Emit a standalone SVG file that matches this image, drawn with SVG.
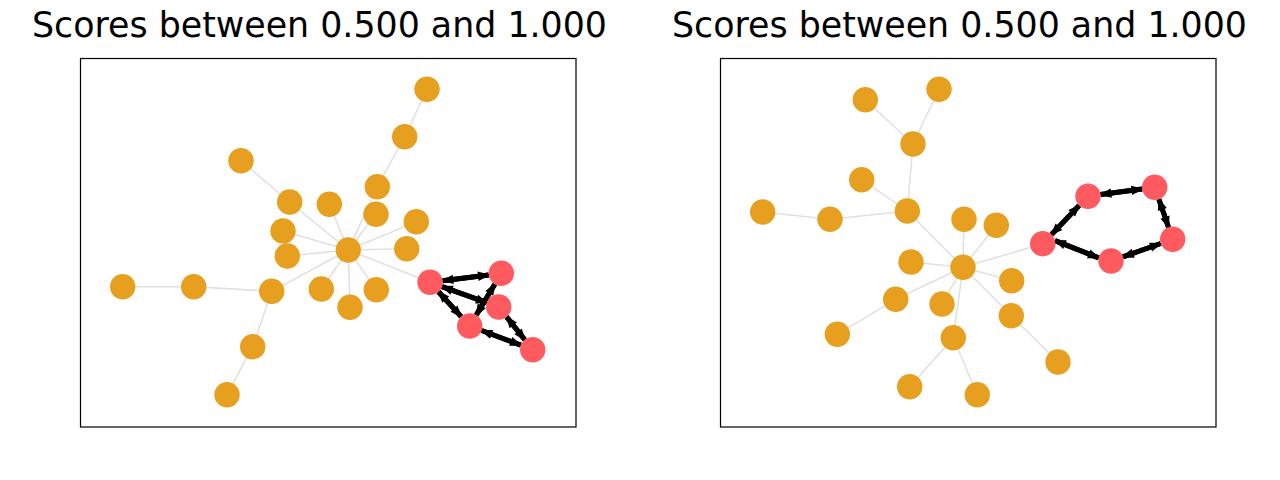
<svg xmlns="http://www.w3.org/2000/svg" width="1280" height="480" viewBox="0 0 1280 480">
<style>
.title{font-family:"DejaVu Sans",sans-serif;font-size:34.8px;fill:#000;text-anchor:middle}
.frame{fill:none;stroke:#000;stroke-width:1.2}
.g{stroke:#e0e0e0;stroke-width:1.5;fill:none}
.d{stroke:#000;stroke-width:5;fill:none;marker-end:url(#ah)}
.o{fill:#e69f1f}
.r{fill:#ff5a5f}
</style>
<defs>
<marker id="ah" markerUnits="userSpaceOnUse" markerWidth="16" markerHeight="12" viewBox="-12 -6 13 12" refX="0" refY="0" orient="auto">
<path d="M-0.5,0 L-10,-3.6 L-10,3.6 z" fill="#000" stroke="#000" stroke-width="1.5" stroke-linejoin="miter"/>
</marker>
</defs>
<rect width="1280" height="480" fill="#fff"/>
<text class="title" x="319.5" y="36.7">Scores between 0.500 and 1.000</text>
<text class="title" x="959.5" y="36.7">Scores between 0.500 and 1.000</text>
<rect class="frame" x="80.5" y="58.5" width="495.5" height="368.5"/>
<rect class="frame" x="720.5" y="58.5" width="495.5" height="368.5"/>

<g id="connectors">
<g id="p1-edges">
<line class="g" x1="427" y1="89.3" x2="404.7" y2="136.7"/>
<line class="g" x1="404.7" y1="136.7" x2="377.3" y2="186.7"/>
<line class="g" x1="377.3" y1="186.7" x2="348.3" y2="250"/>
<line class="g" x1="376" y1="214.3" x2="348.3" y2="250"/>
<line class="g" x1="241" y1="160.7" x2="289.7" y2="202"/>
<line class="g" x1="289.7" y1="202" x2="348.3" y2="250"/>
<line class="g" x1="329.3" y1="204.3" x2="348.3" y2="250"/>
<line class="g" x1="416.3" y1="221.7" x2="348.3" y2="250"/>
<line class="g" x1="283" y1="231" x2="348.3" y2="250"/>
<line class="g" x1="287.3" y1="256" x2="348.3" y2="250"/>
<line class="g" x1="406.7" y1="248.7" x2="348.3" y2="250"/>
<line class="g" x1="122.7" y1="286.7" x2="193.7" y2="286.7"/>
<line class="g" x1="193.7" y1="286.7" x2="271.7" y2="291.3"/>
<line class="g" x1="271.7" y1="291.3" x2="348.3" y2="250"/>
<line class="g" x1="321.3" y1="289" x2="348.3" y2="250"/>
<line class="g" x1="376.3" y1="289.7" x2="348.3" y2="250"/>
<line class="g" x1="350" y1="307.3" x2="348.3" y2="250"/>
<line class="g" x1="271.7" y1="291.3" x2="252.7" y2="346.7"/>
<line class="g" x1="252.7" y1="346.7" x2="227" y2="394.7"/>
<line class="g" x1="348.3" y1="250" x2="430" y2="282.3"/>
<line class="d" x1="442.6" y1="280.7" x2="488.7" y2="274.9"/>
<line class="d" x1="488.7" y1="274.9" x2="442.6" y2="280.7"/>
<line class="d" x1="441.95" y1="286.6" x2="486.75" y2="302.7"/>
<line class="d" x1="486.75" y1="302.7" x2="441.95" y2="286.6"/>
<line class="d" x1="438.5" y1="291.7" x2="461.2" y2="316.6"/>
<line class="d" x1="461.2" y1="316.6" x2="438.5" y2="291.7"/>
<line class="d" x1="494.8" y1="284.2" x2="476.2" y2="315.1"/>
<line class="d" x1="476.2" y1="315.1" x2="494.8" y2="284.2"/>
<line class="d" x1="506.6" y1="316.9" x2="524.8" y2="339.8"/>
<line class="d" x1="524.8" y1="339.8" x2="506.6" y2="316.9"/>
<line class="d" x1="481.6" y1="330.5" x2="520.8" y2="345.2"/>
<line class="d" x1="520.8" y1="345.2" x2="481.6" y2="330.5"/>
</g>
<g id="p2-edges">
<line class="g" x1="865.3" y1="99.7" x2="913" y2="144"/>
<line class="g" x1="939" y1="89.3" x2="913" y2="144"/>
<line class="g" x1="913" y1="144" x2="907.3" y2="211"/>
<line class="g" x1="861.7" y1="179.7" x2="907.3" y2="211"/>
<line class="g" x1="762.7" y1="212" x2="830" y2="219.3"/>
<line class="g" x1="830" y1="219.3" x2="907.3" y2="211"/>
<line class="g" x1="907.3" y1="211" x2="963" y2="267.3"/>
<line class="g" x1="964" y1="219.3" x2="963" y2="267.3"/>
<line class="g" x1="996.3" y1="225.3" x2="963" y2="267.3"/>
<line class="g" x1="911" y1="262" x2="963" y2="267.3"/>
<line class="g" x1="1011.7" y1="280.7" x2="963" y2="267.3"/>
<line class="g" x1="895.7" y1="299.3" x2="963" y2="267.3"/>
<line class="g" x1="942" y1="304" x2="963" y2="267.3"/>
<line class="g" x1="1011.3" y1="315.7" x2="963" y2="267.3"/>
<line class="g" x1="953.3" y1="337.7" x2="963" y2="267.3"/>
<line class="g" x1="837.3" y1="334.3" x2="895.7" y2="299.3"/>
<line class="g" x1="1058" y1="362" x2="1011.3" y2="315.7"/>
<line class="g" x1="909.7" y1="386.7" x2="953.3" y2="337.7"/>
<line class="g" x1="977.3" y1="394.7" x2="953.3" y2="337.7"/>
<line class="g" x1="963" y1="267.3" x2="1042.7" y2="243.7"/>
<line class="d" x1="1051.5" y1="234.5" x2="1079.2" y2="205.5"/>
<line class="d" x1="1079.2" y1="205.5" x2="1051.5" y2="234.5"/>
<line class="d" x1="1100.6" y1="194.6" x2="1142.1" y2="189"/>
<line class="d" x1="1142.1" y1="189" x2="1100.6" y2="194.6"/>
<line class="d" x1="1158.9" y1="199.3" x2="1168.5" y2="227.3"/>
<line class="d" x1="1168.5" y1="227.3" x2="1158.9" y2="199.3"/>
<line class="d" x1="1160.7" y1="243.5" x2="1123" y2="256.8"/>
<line class="d" x1="1123" y1="256.8" x2="1160.7" y2="243.5"/>
<line class="d" x1="1098.7" y1="257.9" x2="1055" y2="240.6"/>
<line class="d" x1="1055" y1="240.6" x2="1098.7" y2="257.9"/>
</g>
</g>

<g id="p1-nodes">
<g id="n1-1"><circle class="o" cx="427" cy="89.3" r="12.7"/></g>
<g id="n1-2"><circle class="o" cx="404.7" cy="136.7" r="12.7"/></g>
<g id="n1-3"><circle class="o" cx="241" cy="160.7" r="12.7"/></g>
<g id="n1-4"><circle class="o" cx="377.3" cy="186.7" r="12.7"/></g>
<g id="n1-5"><circle class="o" cx="289.7" cy="202" r="12.7"/></g>
<g id="n1-6"><circle class="o" cx="329.3" cy="204.3" r="12.7"/></g>
<g id="n1-7"><circle class="o" cx="376" cy="214.3" r="12.7"/></g>
<g id="n1-8"><circle class="o" cx="416.3" cy="221.7" r="12.7"/></g>
<g id="n1-9"><circle class="o" cx="283" cy="231" r="12.7"/></g>
<g id="n1-10"><circle class="o" cx="287.3" cy="256" r="12.7"/></g>
<g id="n1-11"><circle class="o" cx="348.3" cy="250" r="12.7"/></g>
<g id="n1-12"><circle class="o" cx="406.7" cy="248.7" r="12.7"/></g>
<g id="n1-13"><circle class="o" cx="122.7" cy="286.7" r="12.7"/></g>
<g id="n1-14"><circle class="o" cx="193.7" cy="286.7" r="12.7"/></g>
<g id="n1-15"><circle class="o" cx="271.7" cy="291.3" r="12.7"/></g>
<g id="n1-16"><circle class="o" cx="321.3" cy="289" r="12.7"/></g>
<g id="n1-17"><circle class="o" cx="376.3" cy="289.7" r="12.7"/></g>
<g id="n1-18"><circle class="o" cx="350" cy="307.3" r="12.7"/></g>
<g id="n1-19"><circle class="o" cx="252.7" cy="346.7" r="12.7"/></g>
<g id="n1-20"><circle class="o" cx="227" cy="394.7" r="12.7"/></g>
<g id="n1-21"><circle class="r" cx="430" cy="282.3" r="12.7"/></g>
<g id="n1-22"><circle class="r" cx="501.3" cy="273.3" r="12.7"/></g>
<g id="n1-23"><circle class="r" cx="498.7" cy="307" r="12.7"/></g>
<g id="n1-24"><circle class="r" cx="469.7" cy="326" r="12.7"/></g>
<g id="n1-25"><circle class="r" cx="532.7" cy="349.7" r="12.7"/></g>
</g>

<g id="p2-nodes">
<g id="n2-1"><circle class="o" cx="865.3" cy="99.7" r="12.7"/></g>
<g id="n2-2"><circle class="o" cx="939" cy="89.3" r="12.7"/></g>
<g id="n2-3"><circle class="o" cx="913" cy="144" r="12.7"/></g>
<g id="n2-4"><circle class="o" cx="861.7" cy="179.7" r="12.7"/></g>
<g id="n2-5"><circle class="o" cx="762.7" cy="212" r="12.7"/></g>
<g id="n2-6"><circle class="o" cx="830" cy="219.3" r="12.7"/></g>
<g id="n2-7"><circle class="o" cx="907.3" cy="211" r="12.7"/></g>
<g id="n2-8"><circle class="o" cx="964" cy="219.3" r="12.7"/></g>
<g id="n2-9"><circle class="o" cx="996.3" cy="225.3" r="12.7"/></g>
<g id="n2-10"><circle class="o" cx="911" cy="262" r="12.7"/></g>
<g id="n2-11"><circle class="o" cx="963" cy="267.3" r="12.7"/></g>
<g id="n2-12"><circle class="o" cx="1011.7" cy="280.7" r="12.7"/></g>
<g id="n2-13"><circle class="o" cx="895.7" cy="299.3" r="12.7"/></g>
<g id="n2-14"><circle class="o" cx="942" cy="304" r="12.7"/></g>
<g id="n2-15"><circle class="o" cx="1011.3" cy="315.7" r="12.7"/></g>
<g id="n2-16"><circle class="o" cx="837.3" cy="334.3" r="12.7"/></g>
<g id="n2-17"><circle class="o" cx="953.3" cy="337.7" r="12.7"/></g>
<g id="n2-18"><circle class="o" cx="1058" cy="362" r="12.7"/></g>
<g id="n2-19"><circle class="o" cx="909.7" cy="386.7" r="12.7"/></g>
<g id="n2-20"><circle class="o" cx="977.3" cy="394.7" r="12.7"/></g>
<g id="n2-21"><circle class="r" cx="1042.7" cy="243.7" r="12.7"/></g>
<g id="n2-22"><circle class="r" cx="1088" cy="196.3" r="12.7"/></g>
<g id="n2-23"><circle class="r" cx="1154.7" cy="187.3" r="12.7"/></g>
<g id="n2-24"><circle class="r" cx="1172.7" cy="239.3" r="12.7"/></g>
<g id="n2-25"><circle class="r" cx="1111" cy="261" r="12.7"/></g>
</g>
</svg>
